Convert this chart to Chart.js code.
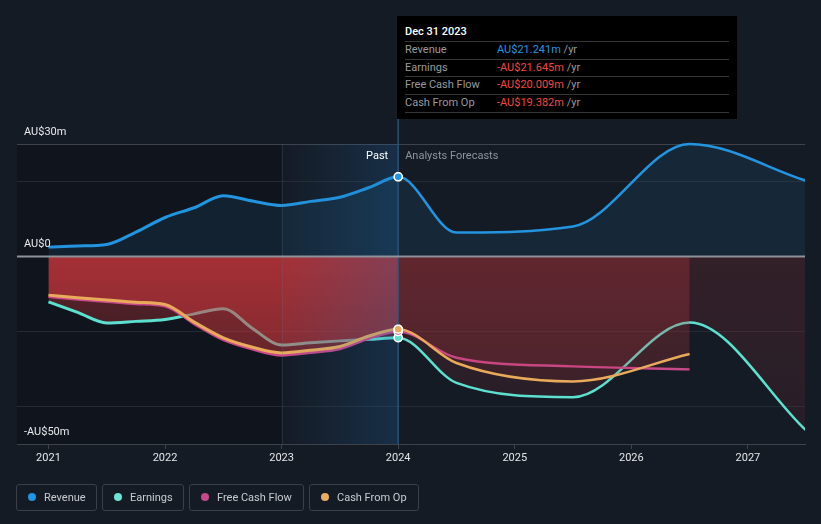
<!DOCTYPE html>
<html><head><meta charset="utf-8">
<script src="https://cdn.jsdelivr.net/npm/chart.js@4.4.1/dist/chart.umd.min.js"></script>
<style>
html,body{margin:0;padding:0;background:#151b25;overflow:hidden;}
#wrap{position:relative;width:821px;height:524px;font-family:Roboto,sans-serif;}
#c{position:absolute;left:0;top:0;}
#tip{position:absolute;left:397px;top:16px;width:340px;height:103px;background:#000;}
#tip .t{position:absolute;left:8px;top:9px;line-height:14px;font-size:11px;font-weight:500;color:#fff;}
#tip .r{position:absolute;left:8px;width:324px;height:17px;border-top:1px solid #363636;line-height:16px;font-size:11px;color:#9b9b9b;}
#tip .r.last{border-bottom:1px solid #363636;}
#tip .v{position:absolute;left:92px;top:0;}
.lg{position:absolute;top:484px;height:27px;box-sizing:border-box;border:1px solid #3a3f48;border-radius:3px;color:#c9ccd1;font-size:11px;line-height:25px;padding-left:27px;white-space:nowrap;}
.dot{position:absolute;left:11px;top:8px;width:8px;height:8px;border-radius:50%;}
</style></head>
<body>
<div id="wrap">
<canvas id="c" width="821" height="524"></canvas>
<div id="tip"></div>
<div id="legend"></div>
</div>
<script>
// ---- data ----
const pastDates = [2021, 2021.25, 2021.5, 2021.75, 2022, 2022.25, 2022.5, 2022.75, 2023, 2023.25, 2023.5, 2023.75, 2024];
const forecastDates = [2024.5, 2025.5, 2026.5, 2027.5];
const revenuePast = [2.5, 2.8, 3.2, 6.5, 10.4, 13.0, 16.2, 14.8, 13.6, 14.7, 15.8, 18.4, 21.241];
const revenueForecast = [6.4, 8.0, 30.0, 20.2];
const earningsPast = [-12.1, -14.9, -17.7, -17.3, -16.8, -15.3, -13.9, -19.2, -23.6, -23.0, -22.5, -22.1, -21.645];
const earningsForecast = [-33.7, -37.5, -17.6, -46.4];
const fcfPast = [-10.7, -11.4, -12.0, -12.6, -13.2, -17.9, -22.2, -24.7, -26.3, -25.6, -24.6, -21.8, -20.009];
const fcfForecast = [-27.0, -29.3, -30.1];
const cfoPast = [-10.3, -11.0, -11.6, -12.2, -12.8, -17.5, -21.7, -24.2, -25.7, -25.0, -24.0, -21.2, -19.382];
const cfoForecast = [-28.4, -33.3, -26.0];
const yearTicks = [2021, 2022, 2023, 2024, 2025, 2026, 2027];
const yGridValues = [30, 20, 0, -20, -40, -50];
const yLabelValues = [30, 0, -50];
const yLabelTexts = ['AU$30m', 'AU$0', '-AU$50m'];
const seriesNames = ['Revenue', 'Earnings', 'Free Cash Flow', 'Cash From Op'];
const seriesColors = ['#2394df', '#5de0d0', '#c7488b', '#e9ab5b'];
const legendDots = ['#2394df', '#6ce3d4', '#c24a8a', '#e8ad60'];
const pastEnd = 2024;
const highlightStart = 2023;
const tooltipTitle = 'Dec 31 2023';

function pts(past, fc){
  return pastDates.map((d,i)=>({x:d,y:past[i]})).concat(fc.map((v,i)=>({x:forecastDates[i],y:v})));
}

// ---- tooltip & legend (HTML) ----
const lastVals = [revenuePast, earningsPast, fcfPast, cfoPast].map(a=>a[a.length-1]);
const tip = document.getElementById('tip');
let th = '<div class="t">'+tooltipTitle+'</div>';
lastVals.forEach((v,i)=>{
  const neg = v<0;
  const txt = (neg?'-':'')+'AU$'+Math.abs(v).toFixed(3)+'m';
  th += '<div class="r'+(i===3?' last':'')+'" style="top:'+(25+17.5*i)+'px">'+seriesNames[i]+
        '<span class="v"><span style="color:'+(neg?'#f0473f':'#2a94e0')+'">'+txt+'</span> /yr</span></div>';
});
tip.innerHTML = th;
const lgLeft = [16, 102, 189, 309], lgW = [81, 82, 115, 110];
document.getElementById('legend').innerHTML = seriesNames.map((n,i)=>
  '<div class="lg" style="left:'+lgLeft[i]+'px;width:'+lgW[i]+'px"><span class="dot" style="background:'+legendDots[i]+'"></span>'+n+'</div>').join('');

// ---- chart ----
Chart.defaults.font.family = 'Roboto, sans-serif';
let patCache = null;
function redPattern(chart){
  const a = chart.chartArea;
  if(!a || !chart.scales.x || !chart.scales.y) return 'rgba(205,55,60,0.3)';
  const key = [chart.width,chart.height,a.left,a.top,a.right,a.bottom].join(',');
  if(patCache && patCache.key===key) return patCache.p;
  const c = document.createElement('canvas'); c.width = chart.width; c.height = chart.height;
  const g = c.getContext('2d');
  const x24 = chart.scales.x.getPixelForValue(pastEnd), y0 = chart.scales.y.getPixelForValue(0);
  let gr = g.createLinearGradient(0,y0,0,a.bottom);
  gr.addColorStop(0,'rgba(205,55,60,0.40)'); gr.addColorStop(1,'rgba(205,55,60,0.14)');
  g.fillStyle = gr; g.fillRect(0,0,x24,c.height);
  gr = g.createLinearGradient(0,y0,0,a.bottom);
  gr.addColorStop(0,'rgba(205,55,60,0.16)'); gr.addColorStop(1,'rgba(205,55,60,0.09)');
  g.fillStyle = gr; g.fillRect(x24,0,c.width-x24,c.height);
  const p = chart.ctx.createPattern(c,'no-repeat');
  patCache = {key,p};
  return p;
}

const common = {
  cubicInterpolationMode:'monotone',
  borderWidth:3,
  pointRadius: ctx => (ctx.raw && ctx.raw.x===pastEnd) ? 4 : 0,
  pointHoverRadius: 0,
  pointBorderColor:'#ffffff',
  pointBorderWidth:1.5,
  segment:{ borderWidth: ctx => ctx.p0.parsed.x >= pastEnd ? 2.5 : 3 },
  clip:{left:0,top:6,right:0,bottom:6}
};

const bgPlugin = {
  id:'bgdeco',
  beforeDraw(chart){
    const {ctx, chartArea:a, scales:{x}} = chart;
    ctx.save();
    ctx.fillStyle = '#151b25'; ctx.fillRect(0,0,chart.width,chart.height);
    const x23 = x.getPixelForValue(highlightStart);
    ctx.fillStyle = 'rgba(0,0,0,0.2)'; ctx.fillRect(a.left,a.top,x23-a.left,a.bottom-a.top);
    ctx.restore();
  },
  afterDatasetsDraw(chart){
    const {ctx, chartArea:a, scales:{x,y}} = chart;
    const x23 = x.getPixelForValue(highlightStart), x24 = x.getPixelForValue(pastEnd);
    ctx.save();
    const g = ctx.createLinearGradient(x23,0,x24,0);
    g.addColorStop(0,'rgba(30,110,180,0)'); g.addColorStop(1,'rgba(30,110,180,0.24)');
    ctx.fillStyle = g; ctx.fillRect(x23,a.top,x24-x23,a.bottom-a.top);
    ctx.strokeStyle = 'rgba(90,110,130,0.25)'; ctx.lineWidth = 1;
    ctx.beginPath(); ctx.moveTo(Math.round(x23)+0.5,a.top); ctx.lineTo(Math.round(x23)+0.5,a.bottom); ctx.stroke();
    ctx.strokeStyle = 'rgba(45,85,125,0.9)'; ctx.lineWidth = 1.5;
    ctx.beginPath(); ctx.moveTo(x24,119); ctx.lineTo(x24,a.bottom); ctx.stroke();
    const y0 = y.getPixelForValue(0);
    ctx.strokeStyle = '#8e9299'; ctx.lineWidth = 2;
    ctx.beginPath(); ctx.moveTo(a.left,y0); ctx.lineTo(a.right,y0); ctx.stroke();
    // markers on top
    const metas = chart.data.datasets.map((ds,i)=>({ds,i})).sort((p,q)=>(q.ds.order||0)-(p.ds.order||0));
    metas.forEach(({ds,i})=>{
      const meta = chart.getDatasetMeta(i);
      meta.data.forEach((el,j)=>{ if(ds.data[j].x===pastEnd) el.draw(ctx,a); });
    });
    // texts
    ctx.font = '11px Roboto, sans-serif';
    ctx.textBaseline = 'middle';
    ctx.fillStyle = '#e8eaed'; ctx.textAlign = 'left';
    yLabelValues.forEach((v,i)=>{ ctx.fillText(yLabelTexts[i], 24, y.getPixelForValue(v)-12); });
    ctx.textAlign = 'right'; ctx.fillStyle = '#ffffff';
    ctx.fillText('Past', x24-10, a.top+12);
    ctx.textAlign = 'left'; ctx.fillStyle = '#8d939b';
    ctx.fillText('Analysts Forecasts', x24+7, a.top+12);
    ctx.restore();
  }
};

new Chart(document.getElementById('c'), {
  type:'line',
  data:{ datasets:[
    Object.assign({label:seriesNames[1], data:pts(earningsPast,earningsForecast), borderColor:seriesColors[1], pointBackgroundColor:seriesColors[1], backgroundColor:ctx=>redPattern(ctx.chart), fill:'origin', order:4}, common),
    Object.assign({label:seriesNames[2], data:pts(fcfPast,fcfForecast), borderColor:seriesColors[2], pointBackgroundColor:seriesColors[2], backgroundColor:ctx=>redPattern(ctx.chart), fill:'origin', order:3}, common),
    Object.assign({label:seriesNames[3], data:pts(cfoPast,cfoForecast), borderColor:seriesColors[3], pointBackgroundColor:seriesColors[3], backgroundColor:ctx=>redPattern(ctx.chart), fill:'origin', order:2}, common),
    Object.assign({label:seriesNames[0], data:pts(revenuePast,revenueForecast), borderColor:seriesColors[0], pointBackgroundColor:seriesColors[0], backgroundColor:'rgba(35,148,223,0.11)', fill:'origin', order:1}, common)
  ]},
  options:{
    responsive:false, animation:false, events:[],
    layout:{padding:{left:17,right:16,top:144,bottom:0}},
    plugins:{legend:{display:false}, tooltip:{enabled:false}},
    scales:{
      x:{type:'linear', min:2020.73, max:2027.49,
         afterBuildTicks: s => { s.ticks = yearTicks.map(v=>({value:v})); },
         afterFit: s => { s.height = 80; },
         grid:{drawOnChartArea:false, drawTicks:true, tickLength:5, color:'#3d424b'},
         border:{display:true, color:'#3d424b', width:1},
         ticks:{color:'#e4e6e9', font:{size:11}, padding:3, maxRotation:0, autoSkip:false, callback:v=>String(v)}},
      y:{min:-50, max:30,
         afterBuildTicks: s => { s.ticks = yGridValues.map(v=>({value:v})); },
         afterFit: s => { s.width = 0; },
         ticks:{display:false}, border:{display:false},
         grid:{drawTicks:false, lineWidth:1,
               color: ctx => { const v = ctx.tick && ctx.tick.value; if(v===30) return '#3d424b'; if(v===0||v===-50) return 'rgba(0,0,0,0)'; return '#252a33'; }}}
    }
  },
  plugins:[bgPlugin]
});
</script>
</body></html>
